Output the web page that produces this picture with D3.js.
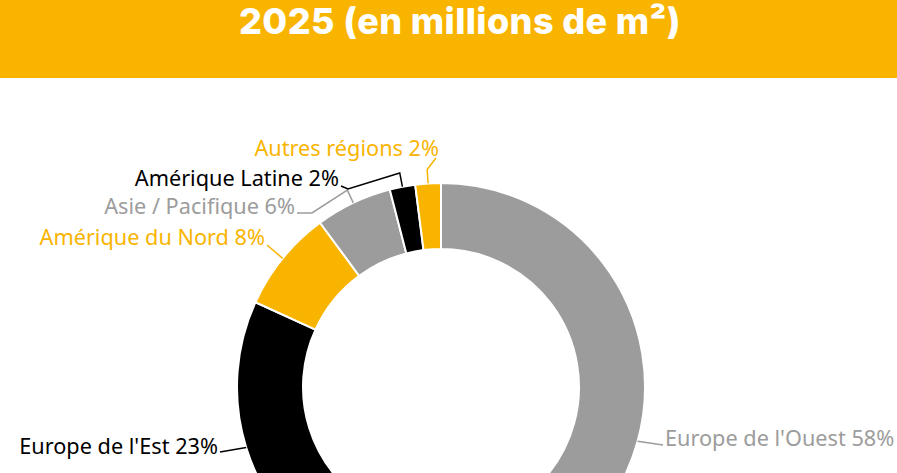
<!DOCTYPE html>
<html>
<head>
<meta charset="utf-8">
<script src="https://cdn.jsdelivr.net/npm/d3@7"></script>
<style>
  body { margin: 0; background: #fff; }
  svg { display: block; }
  .title { font-family: "Inter", "Open Sans", sans-serif; font-weight: 800; fill: #fff; }
  .lbl { font-family: "Noto Sans", "Open Sans", sans-serif; }
</style>
</head>
<body>
<div id="chart"></div>
<script>
// data
const regions = ["Europe de l'Ouest", "Europe de l'Est", "Amérique du Nord", "Asie / Pacifique", "Amérique Latine", "Autres régions"];
const shares = [58, 23, 8, 6, 2, 2];
const colors = ["#9c9c9c", "#000000", "#f9b400", "#9c9c9c", "#000000", "#f9b400"];
const title = "2025 (en millions de m²)";

// label placement (anchor point of each text + where its leader ends)
const labelLayout = [
    { tx: 665, ty: 446, anchor: 'start', elbow: false, path: [[663, 445]] },
    { tx: 218, ty: 454, anchor: 'end', elbow: false, path: [[220, 452]] },
    { tx: 265, ty: 245, anchor: 'end', elbow: false, path: [[267, 245]] },
    { tx: 295, ty: 214, anchor: 'end', elbow: true, path: [[312, 213], [297, 213]] },
    { tx: 339, ty: 186, anchor: 'end', elbow: true, path: [[348, 189], [341, 186]] },
    { tx: 439, ty: 156, anchor: 'end', elbow: true, path: [[436, 158]] }
];

const W = 897, H = 473;
const cx = 441, cy = 387, rOuter = 204, rInner = 138, rElbow = 218;

const svg = d3.select('#chart').append('svg')
    .attr('width', W)
    .attr('height', H);

// title band
svg.append('rect')
    .attr('x', 0).attr('y', 0)
    .attr('width', W).attr('height', 78)
    .attr('fill', '#f9b400');

svg.append('text')
    .attr('class', 'title')
    .attr('x', 460)
    .attr('y', 34)
    .attr('text-anchor', 'middle')
    .style('font-size', '36px')
    .style('letter-spacing', '0.4px')
    .text(title);

const data = regions.map((r, i) => ({ region: r, value: shares[i], color: colors[i], layout: labelLayout[i] }));

const pie = d3.pie()
    .value(d => d.value)
    .sort(null);

const arc = d3.arc()
    .innerRadius(rInner)
    .outerRadius(rOuter);

const g = svg.append('g')
    .attr('transform', `translate(${cx},${cy})`);

const arcs = pie(data);

g.selectAll('path.slice')
    .data(arcs)
    .enter()
    .append('path')
    .attr('class', 'slice')
    .attr('d', arc)
    .attr('fill', d => d.data.color)
    .attr('stroke', '#fff')
    .attr('stroke-width', 2);

// leader lines
function onRadius(d, r) {
    const a = (d.startAngle + d.endAngle) / 2;
    return [cx + r * Math.sin(a), cy - r * Math.cos(a)];
}

svg.selectAll('polyline.leader')
    .data(arcs)
    .enter()
    .append('polyline')
    .attr('class', 'leader')
    .attr('fill', 'none')
    .attr('stroke', d => d.data.color)
    .attr('stroke-width', 1.5)
    .attr('points', d => {
        const pts = [onRadius(d, rOuter)];
        if (d.data.layout.elbow) pts.push(onRadius(d, rElbow));
        return pts.concat(d.data.layout.path).map(p => p.join(',')).join(' ');
    });

svg.selectAll('text.lbl')
    .data(arcs)
    .enter()
    .append('text')
    .attr('class', 'lbl')
    .attr('x', d => d.data.layout.tx)
    .attr('y', d => d.data.layout.ty)
    .attr('text-anchor', d => d.data.layout.anchor)
    .attr('fill', d => d.data.color)
    .style('font-size', '21.7px')
    .text(d => `${d.data.region} ${d.data.value}%`);
</script>
</body>
</html>
